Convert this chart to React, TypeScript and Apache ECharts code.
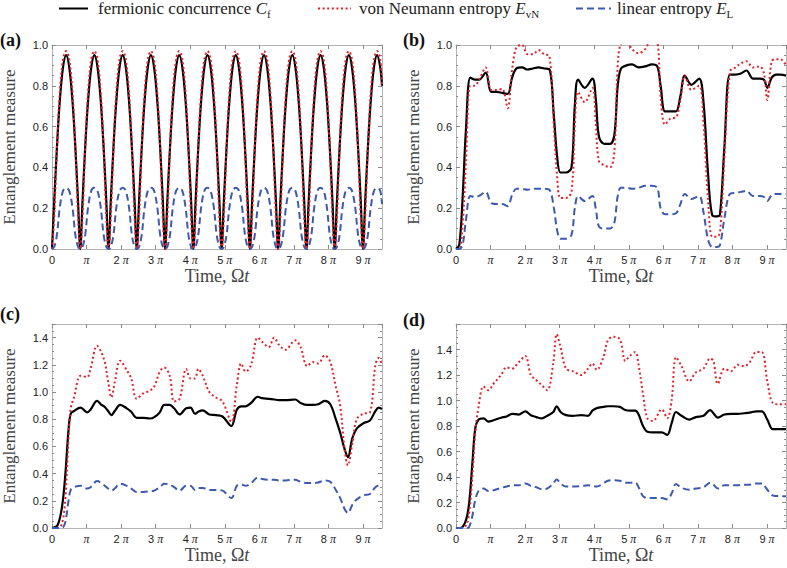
import React, { useEffect, useRef } from 'react';
import * as echarts from 'echarts';

// ---------- data ----------
// Panel (a)
const timesA = [
  0, 0.2, 0.45, 0.7, 1.0, 1.285, 1.57, 1.87, 2.12, 2.37,
  2.57, 2.77, 3.02, 3.27, 3.57, 3.855, 4.14, 4.44, 4.69, 4.94,
  5.14, 5.34, 5.59, 5.84, 6.14, 6.425, 6.71, 7.01, 7.26, 7.51,
  7.71, 7.91, 8.16, 8.41, 8.71, 8.995, 9.28, 9.58, 9.83, 10.08,
  10.28, 10.48, 10.73, 10.98, 11.28, 11.565, 11.85, 12.15, 12.4, 12.65,
  12.85, 13.05, 13.3, 13.55, 13.85, 14.135, 14.42, 14.72, 14.97, 15.22,
  15.42, 15.62, 15.87, 16.12, 16.42, 16.705, 16.99, 17.29, 17.54, 17.79,
  17.99, 18.19, 18.44, 18.69, 18.99, 19.275, 19.56, 19.86, 20.11, 20.36,
  20.56, 20.76, 21.01, 21.26, 21.56, 21.845, 22.13, 22.43, 22.68, 22.93,
  23.13, 23.33, 23.58, 23.83, 24.13, 24.415, 24.7, 25.0, 25.25, 25.5,
  25.7, 25.9, 26.15, 26.4, 26.7, 26.985, 27.27, 27.57, 27.82, 28.07,
  28.27, 28.47, 28.72, 28.97, 29.27, 29.555, 29.84, 30,
];
const cfA = [
  0, 0.23, 0.5, 0.72, 0.89, 0.95, 0.89, 0.72, 0.5, 0.23,
  0, 0.23, 0.5, 0.72, 0.89, 0.95, 0.89, 0.72, 0.5, 0.23,
  0, 0.23, 0.5, 0.72, 0.89, 0.95, 0.89, 0.72, 0.5, 0.23,
  0, 0.23, 0.5, 0.72, 0.89, 0.95, 0.89, 0.72, 0.5, 0.23,
  0, 0.23, 0.5, 0.72, 0.89, 0.95, 0.89, 0.72, 0.5, 0.23,
  0, 0.23, 0.5, 0.72, 0.89, 0.95, 0.89, 0.72, 0.5, 0.23,
  0, 0.23, 0.5, 0.72, 0.89, 0.95, 0.89, 0.72, 0.5, 0.23,
  0, 0.23, 0.5, 0.72, 0.89, 0.95, 0.89, 0.72, 0.5, 0.23,
  0, 0.23, 0.5, 0.72, 0.89, 0.95, 0.89, 0.72, 0.5, 0.23,
  0, 0.23, 0.5, 0.72, 0.89, 0.95, 0.89, 0.72, 0.5, 0.23,
  0, 0.23, 0.5, 0.72, 0.89, 0.95, 0.89, 0.72, 0.5, 0.23,
  0, 0.23, 0.5, 0.72, 0.89, 0.95, 0.89, 0.8,
];
const evnA = [
  0, 0.15, 0.5, 0.76, 0.93, 0.97, 0.93, 0.76, 0.5, 0.15,
  0, 0.15, 0.5, 0.76, 0.93, 0.97, 0.93, 0.76, 0.5, 0.15,
  0, 0.15, 0.5, 0.76, 0.93, 0.97, 0.93, 0.76, 0.5, 0.15,
  0, 0.15, 0.5, 0.76, 0.93, 0.97, 0.93, 0.76, 0.5, 0.15,
  0, 0.15, 0.5, 0.76, 0.93, 0.97, 0.93, 0.76, 0.5, 0.15,
  0, 0.15, 0.5, 0.76, 0.93, 0.97, 0.93, 0.76, 0.5, 0.15,
  0, 0.15, 0.5, 0.76, 0.93, 0.97, 0.93, 0.76, 0.5, 0.15,
  0, 0.15, 0.5, 0.76, 0.93, 0.97, 0.93, 0.76, 0.5, 0.15,
  0, 0.15, 0.5, 0.76, 0.93, 0.97, 0.93, 0.76, 0.5, 0.15,
  0, 0.15, 0.5, 0.76, 0.93, 0.97, 0.93, 0.76, 0.5, 0.15,
  0, 0.15, 0.5, 0.76, 0.93, 0.97, 0.93, 0.76, 0.5, 0.15,
  0, 0.15, 0.5, 0.76, 0.93, 0.97, 0.93, 0.8,
];
const elA = [
  0, 0.01, 0.07, 0.2, 0.285, 0.3, 0.285, 0.2, 0.07, 0.01,
  0, 0.01, 0.07, 0.2, 0.285, 0.3, 0.285, 0.2, 0.07, 0.01,
  0, 0.01, 0.07, 0.2, 0.285, 0.3, 0.285, 0.2, 0.07, 0.01,
  0, 0.01, 0.07, 0.2, 0.285, 0.3, 0.285, 0.2, 0.07, 0.01,
  0, 0.01, 0.07, 0.2, 0.285, 0.3, 0.285, 0.2, 0.07, 0.01,
  0, 0.01, 0.07, 0.2, 0.285, 0.3, 0.285, 0.2, 0.07, 0.01,
  0, 0.01, 0.07, 0.2, 0.285, 0.3, 0.285, 0.2, 0.07, 0.01,
  0, 0.01, 0.07, 0.2, 0.285, 0.3, 0.285, 0.2, 0.07, 0.01,
  0, 0.01, 0.07, 0.2, 0.285, 0.3, 0.285, 0.2, 0.07, 0.01,
  0, 0.01, 0.07, 0.2, 0.285, 0.3, 0.285, 0.2, 0.07, 0.01,
  0, 0.01, 0.07, 0.2, 0.285, 0.3, 0.285, 0.2, 0.07, 0.01,
  0, 0.01, 0.07, 0.2, 0.285, 0.3, 0.285, 0.22,
];

// Panel (b)
const timesB = [
  0, 0.3, 0.6, 0.9, 1.3, 1.7, 2.1, 2.7, 3.2, 3.7,
  4.2, 4.7, 5.1, 5.5, 6.0, 6.5, 7.0, 7.5, 8.0, 8.5,
  8.9, 9.2, 9.5, 10.0, 10.5, 10.8, 11.1, 11.7, 12.4, 12.7,
  13.0, 13.5, 14.0, 14.4, 14.7, 15.0, 15.5, 16.0, 16.6, 17.2,
  17.8, 18.3, 18.6, 19.0, 19.5, 20.0, 20.4, 20.8, 21.4, 22.1,
  22.5, 22.9, 23.3, 23.7, 24.0, 24.4, 24.9, 25.4, 25.9, 26.4,
  27.0, 27.6, 28.0, 28.3, 28.7, 29.1, 29.5, 30,
];
const cfB = [
  0, 0.02, 0.25, 0.58, 0.84, 0.83, 0.83, 0.865, 0.77, 0.77,
  0.765, 0.76, 0.84, 0.885, 0.89, 0.88, 0.885, 0.89, 0.885, 0.88,
  0.65, 0.45, 0.375, 0.375, 0.4, 0.7, 0.83, 0.79, 0.835, 0.74,
  0.55, 0.515, 0.515, 0.56, 0.8, 0.885, 0.9, 0.905, 0.89, 0.895,
  0.905, 0.895, 0.8, 0.675, 0.675, 0.675, 0.75, 0.85, 0.805, 0.835,
  0.72, 0.38, 0.165, 0.16, 0.17, 0.5, 0.855, 0.855, 0.86, 0.875,
  0.835, 0.835, 0.83, 0.79, 0.84, 0.855, 0.855, 0.85,
];
const evnB = [
  0, 0, 0.12, 0.42, 0.8, 0.8, 0.83, 0.89, 0.78, 0.78,
  0.785, 0.69, 0.88, 0.99, 1.0, 0.955, 0.955, 0.975, 0.955, 0.945,
  0.6, 0.35, 0.25, 0.25, 0.28, 0.6, 0.77, 0.72, 0.79, 0.62,
  0.43, 0.41, 0.4, 0.48, 0.9, 1.01, 1.02, 0.98, 0.96, 0.98,
  1.03, 1.02, 0.75, 0.61, 0.64, 0.645, 0.73, 0.85, 0.78, 0.8,
  0.62, 0.25, 0.06, 0.06, 0.08, 0.45, 0.87, 0.89, 0.91, 0.92,
  0.89, 0.895, 0.86, 0.73, 0.92, 0.93, 0.93, 0.9,
];
const elB = [
  0, 0, 0.02, 0.14, 0.26, 0.255, 0.26, 0.28, 0.225, 0.22,
  0.22, 0.21, 0.265, 0.295, 0.295, 0.29, 0.295, 0.295, 0.295, 0.29,
  0.2, 0.09, 0.05, 0.05, 0.07, 0.2, 0.26, 0.235, 0.26, 0.2,
  0.11, 0.1, 0.1, 0.13, 0.26, 0.3, 0.3, 0.295, 0.3, 0.31,
  0.31, 0.3, 0.2, 0.17, 0.17, 0.175, 0.22, 0.27, 0.245, 0.26,
  0.18, 0.05, 0.01, 0.01, 0.02, 0.15, 0.27, 0.275, 0.28, 0.285,
  0.26, 0.26, 0.255, 0.235, 0.265, 0.27, 0.27, 0.27,
];

// Panel (c)
const timesC = [
  0, 0.5, 0.9, 1.2, 1.5, 1.7, 2.0, 2.6, 3.2, 3.5,
  4.1, 4.5, 4.8, 5.1, 5.4, 5.7, 6.2, 6.8, 7.2, 7.7,
  8.3, 8.9, 9.3, 9.8, 10.2, 10.7, 11.1, 11.6, 12.2, 12.6,
  13.0, 13.3, 13.7, 14.3, 14.9, 15.5, 16.3, 16.8, 17.2, 17.6,
  18.1, 18.7, 19.1, 19.7, 20.2, 20.6, 21.2, 22.1, 22.6, 23.2,
  23.7, 24.2, 24.8, 25.3, 25.8, 26.2, 26.6, 26.9, 27.3, 27.7,
  28.3, 28.9, 29.4, 29.7, 30,
];
const cfC = [
  0, 0.02, 0.15, 0.38, 0.72, 0.84, 0.86, 0.885, 0.85, 0.87,
  0.935, 0.905, 0.89, 0.86, 0.83, 0.86, 0.905, 0.88, 0.855, 0.81,
  0.81, 0.805, 0.815, 0.85, 0.905, 0.905, 0.88, 0.835, 0.88, 0.885,
  0.84, 0.855, 0.865, 0.835, 0.83, 0.82, 0.75, 0.87, 0.895, 0.895,
  0.92, 0.965, 0.955, 0.95, 0.945, 0.94, 0.94, 0.945, 0.92, 0.905,
  0.905, 0.91, 0.935, 0.91, 0.8, 0.7, 0.58, 0.52, 0.66, 0.73,
  0.77, 0.79, 0.86, 0.885, 0.875,
];
const evnC = [
  0, 0, 0.03, 0.2, 0.65, 0.88, 0.96, 1.12, 1.11, 1.17,
  1.34, 1.29, 1.22, 1.08, 0.96, 1.07, 1.23, 1.16, 1.1, 0.95,
  0.99, 1.01, 1.04, 1.15, 1.18, 1.12, 0.93, 0.95, 1.17, 1.1,
  1.1, 1.17, 1.12, 1.0, 0.96, 0.93, 0.78, 1.05, 1.21, 1.15,
  1.2, 1.4, 1.37, 1.33, 1.4, 1.35, 1.31, 1.38, 1.33, 1.19,
  1.22, 1.21, 1.27, 1.22, 1.04, 0.9, 0.58, 0.46, 0.62, 0.8,
  0.84, 0.85, 1.2, 1.25, 1.2,
];
const elC = [
  0, 0, 0, 0.04, 0.2, 0.28, 0.3, 0.31, 0.29, 0.3,
  0.345, 0.33, 0.31, 0.29, 0.275, 0.29, 0.325, 0.31, 0.29, 0.265,
  0.265, 0.27, 0.275, 0.3, 0.325, 0.32, 0.3, 0.275, 0.31, 0.31,
  0.28, 0.295, 0.295, 0.28, 0.28, 0.275, 0.22, 0.31, 0.32, 0.31,
  0.33, 0.37, 0.36, 0.355, 0.355, 0.35, 0.35, 0.355, 0.34, 0.33,
  0.33, 0.335, 0.35, 0.34, 0.28, 0.22, 0.14, 0.11, 0.17, 0.21,
  0.24, 0.25, 0.3, 0.31, 0.3,
];

// Panel (d)
const timesD = [
  0, 0.4, 0.9, 1.2, 1.5, 1.75, 2.05, 2.5, 2.95, 3.4,
  4.1, 4.6, 5.1, 5.7, 6.3, 6.8, 7.3, 7.8, 8.3, 8.85,
  9.15, 9.5, 10.0, 10.6, 11.4, 12.0, 12.4, 12.8, 13.4, 13.8,
  14.3, 14.9, 15.4, 15.8, 16.3, 16.6, 17.0, 17.4, 17.9, 18.7,
  19.2, 19.6, 20.0, 20.5, 21.2, 21.8, 22.5, 23.1, 23.4, 23.8,
  24.4, 25.0, 25.6, 26.2, 26.7, 27.3, 27.8, 28.3, 28.8, 29.4,
  30,
];
const cfD = [
  0, 0, 0.06, 0.2, 0.52, 0.78, 0.85, 0.86, 0.835, 0.845,
  0.865, 0.875, 0.895, 0.89, 0.915, 0.885, 0.87, 0.86, 0.88, 0.91,
  0.955, 0.91, 0.885, 0.88, 0.885, 0.88, 0.92, 0.94, 0.95, 0.955,
  0.955, 0.95, 0.925, 0.92, 0.92, 0.89, 0.8, 0.755, 0.75, 0.75,
  0.73, 0.82, 0.91, 0.88, 0.85, 0.87, 0.88, 0.925, 0.9, 0.865,
  0.89, 0.895, 0.895, 0.9, 0.905, 0.915, 0.915, 0.85, 0.775, 0.775,
  0.775,
];
const evnD = [
  0, 0, 0.02, 0.12, 0.42, 0.75, 0.95, 1.11, 1.08, 1.13,
  1.2, 1.26, 1.25, 1.3, 1.35, 1.2, 1.16, 1.12, 1.08, 1.3,
  1.52, 1.42, 1.25, 1.23, 1.2, 1.25, 1.29, 1.24, 1.34, 1.47,
  1.5, 1.48, 1.31, 1.35, 1.38, 1.28, 1.05, 0.86, 0.84, 0.93,
  0.86, 1.0, 1.34, 1.27, 1.15, 1.22, 1.25, 1.33, 1.31, 1.13,
  1.25, 1.23, 1.28, 1.27, 1.3, 1.38, 1.38, 1.15, 0.98, 0.97,
  0.97,
];
const elD = [
  0, 0, 0, 0.01, 0.1, 0.22, 0.29, 0.31, 0.29, 0.295,
  0.315, 0.325, 0.335, 0.335, 0.35, 0.33, 0.32, 0.305, 0.31, 0.35,
  0.38, 0.35, 0.325, 0.325, 0.33, 0.335, 0.33, 0.325, 0.35, 0.37,
  0.375, 0.37, 0.355, 0.355, 0.355, 0.32, 0.25, 0.235, 0.235, 0.235,
  0.225, 0.27, 0.345, 0.315, 0.3, 0.31, 0.32, 0.355, 0.34, 0.31,
  0.335, 0.335, 0.335, 0.34, 0.34, 0.35, 0.35, 0.3, 0.255, 0.25,
  0.25,
];

const yMaxes = [1.0, 1.0, 1.5, 1.6];
const panelLabels = ['(a)', '(b)', '(c)', '(d)'];
const seriesNames = ['Cf', 'EvN', 'EL'];

// ---------- layout / style ----------
const SERIF = '"Liberation Serif", "Times New Roman", serif';
const SANS = '"Liberation Sans", Arial, sans-serif';
const FRAME = '#b4b4b4';
const TICK = '#8a8a8a';
const COLORS = ['#000000', '#e3232b', '#3d5aae'];

const gridBoxes = [
  { left: 50, top: 45, width: 332, height: 204 },
  { left: 456, top: 45, width: 330, height: 204 },
  { left: 50, top: 324, width: 332, height: 204 },
  { left: 456, top: 324, width: 330, height: 204 },
];
const labelPos = [
  { x: 0, y: 31 },
  { x: 403, y: 31 },
  { x: 0, y: 305 },
  { x: 403, y: 311 },
];

function zip(t: number[], y: number[]) {
  return t.map((x, i) => [x, y[i]]);
}

function piLabel(v: number) {
  const k = Math.round(v / Math.PI);
  if (Math.abs(v - k * Math.PI) > 1e-6) return '';
  if (k === 0) return '0';
  if (k === 1) return '{p|π}';
  return k + ' {p|π}';
}

export default function App() {
  const ref = useRef<HTMLDivElement>(null);
  useEffect(() => {
    if (!ref.current) return;
    const chart = echarts.init(ref.current, undefined, { renderer: 'svg' });

    const panels = [
      { t: timesA, ys: [cfA, evnA, elA] },
      { t: timesB, ys: [cfB, evnB, elB] },
      { t: timesC, ys: [cfC, evnC, elC] },
      { t: timesD, ys: [cfD, evnD, elD] },
    ];

    const xAxes: any[] = [];
    const yAxes: any[] = [];
    const series: any[] = [];

    panels.forEach((p, i) => {
      xAxes.push({
        type: 'value', gridIndex: i, min: 0, max: 30, interval: Math.PI, position: 'bottom',
        axisLine: { show: true, onZero: false, lineStyle: { color: FRAME, width: 1 } },
        axisTick: { show: true, inside: true, length: 4, lineStyle: { color: TICK } },
        splitLine: { show: false },
        axisLabel: {
          formatter: piLabel, fontFamily: SANS, fontSize: 11, color: '#222', margin: 5,
          showMaxLabel: false,
          rich: { p: { fontFamily: SERIF, fontSize: 12, fontStyle: 'italic', color: '#222' } },
        },
        name: 'Time, Ω{i|t}', nameLocation: 'middle', nameGap: 17,
        nameTextStyle: {
          fontFamily: SERIF, fontSize: 18, color: '#444',
          rich: { i: { fontFamily: SERIF, fontSize: 18, fontStyle: 'italic', color: '#444' } },
        },
      });
      xAxes.push({
        type: 'value', gridIndex: i, min: 0, max: 30, interval: Math.PI, position: 'top',
        axisLine: { show: true, onZero: false, lineStyle: { color: FRAME, width: 1 } },
        axisTick: { show: true, inside: true, length: 4, lineStyle: { color: TICK } },
        splitLine: { show: false },
        axisLabel: { show: false },
      });
      yAxes.push({
        type: 'value', gridIndex: i, min: 0, max: yMaxes[i], interval: 0.2, position: 'left',
        axisLine: { show: true, onZero: false, lineStyle: { color: FRAME, width: 1 } },
        axisTick: { show: true, inside: true, length: 4, lineStyle: { color: TICK } },
        minorTick: { show: true, splitNumber: 4, length: 2, lineStyle: { color: TICK } },
        splitLine: { show: false },
        minorSplitLine: { show: false },
        axisLabel: {
          formatter: (v: number) => v.toFixed(1), fontFamily: SANS, fontSize: 11, color: '#222',
          margin: 4, showMaxLabel: yMaxes[i] === 1.0,
        },
        name: 'Entanglement measure', nameLocation: 'middle', nameGap: 34,
        nameTextStyle: { fontFamily: SERIF, fontSize: 17, color: '#444' },
      });
      yAxes.push({
        type: 'value', gridIndex: i, min: 0, max: yMaxes[i], interval: 0.2, position: 'right',
        axisLine: { show: true, onZero: false, lineStyle: { color: FRAME, width: 1 } },
        axisTick: { show: true, inside: true, length: 4, lineStyle: { color: TICK } },
        minorTick: { show: true, splitNumber: 4, length: 2, lineStyle: { color: TICK } },
        splitLine: { show: false },
        axisLabel: { show: false },
      });

      p.ys.forEach((y, j) => {
        const lineStyle: any = { color: COLORS[j], width: j === 0 ? 2.2 : 2 };
        if (j === 1) lineStyle.type = [2, 2.6];
        if (j === 2) lineStyle.type = [7, 4];
        series.push({
          type: 'line', name: seriesNames[j], xAxisIndex: 2 * i, yAxisIndex: 2 * i,
          data: zip(p.t, y), symbol: 'none', showSymbol: false, smooth: 0.35,
          lineStyle, itemStyle: { color: COLORS[j] }, clip: true, z: 2 + j,
        });
      });
    });

    const legendRich = {
      i: { fontFamily: SERIF, fontSize: 17, fontStyle: 'italic', color: '#222', lineHeight: 21 },
      s: { fontFamily: SERIF, fontSize: 11, color: '#222', verticalAlign: 'bottom', lineHeight: 21 },
    };
    const legendText: Record<string, string> = {
      Cf: 'fermionic concurrence {i|C}{s|f}',
      EvN: 'von Neumann entropy {i|E}{s|vN}',
      EL: 'linear entropy {i|E}{s|L}',
    };
    const mkLegend = (name: string, left: number, w: number, padLeft: number) => ({
      data: [name], left, top: 0, itemWidth: w, itemHeight: 14, padding: 0,
      selectedMode: false,
      itemStyle: { opacity: 0 },
      formatter: (n: string) => legendText[n],
      textStyle: {
        fontFamily: SERIF, fontSize: 17, color: '#222', padding: [0, 0, 0, padLeft],
        rich: legendRich,
      },
    });

    chart.setOption({
      animation: false,
      backgroundColor: '#ffffff',
      textStyle: { fontFamily: SANS },
      legend: [
        mkLegend('Cf', 58, 29, 5),
        mkLegend('EvN', 317, 33, 3),
        mkLegend('EL', 575, 35, 1),
      ],
      grid: gridBoxes.map((g) => ({ ...g, containLabel: false })),
      xAxis: xAxes,
      yAxis: yAxes,
      series,
      graphic: panelLabels.map((txt, i) => ({
        type: 'text', left: labelPos[i].x, top: labelPos[i].y,
        style: { text: txt, font: `bold 18px ${SERIF}`, fill: '#111' },
      })),
    });

    return () => chart.dispose();
  }, []);

  return (
    <div
      ref={ref}
      style={{ position: 'absolute', left: 0, top: 0, width: 787, height: 568, background: '#fff' }}
    />
  );
}
